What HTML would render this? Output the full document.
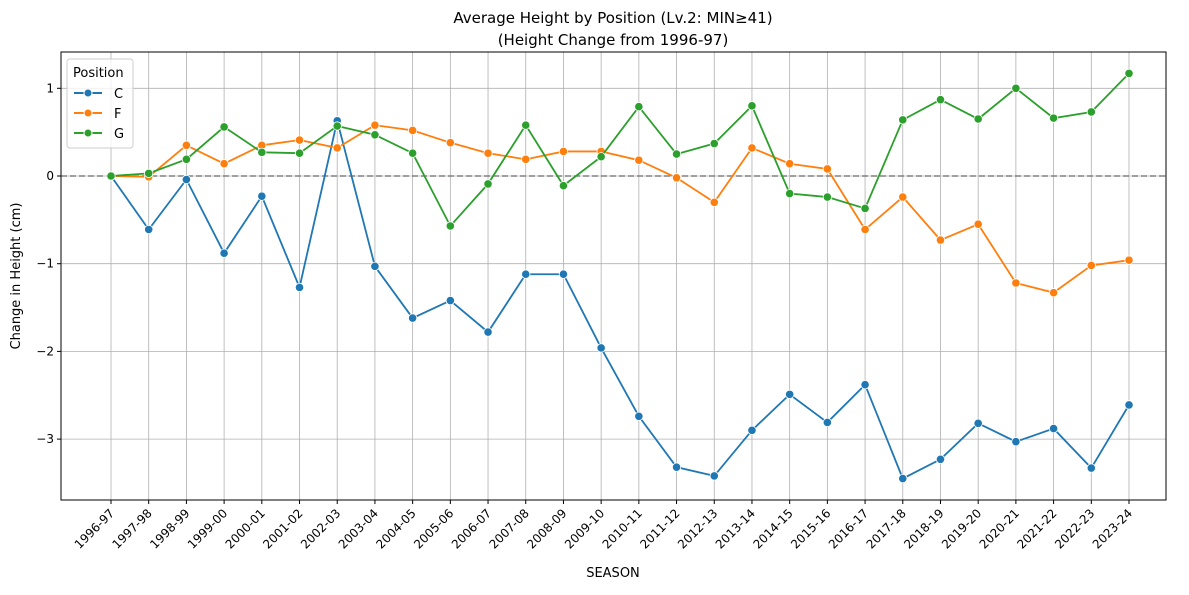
<!DOCTYPE html>
<html><head><meta charset="utf-8"><style>
body{margin:0;background:#fff;font-family:"Liberation Sans","DejaVu Sans",sans-serif;}
</style></head><body>
<svg id="chart" width="1189" height="590" xmlns="http://www.w3.org/2000/svg" font-family="DejaVu Sans, Liberation Sans, sans-serif">
<text x="613" y="23" font-size="15" text-anchor="middle">Average Height by Position (Lv.2: MIN≥41)</text>
<text x="613" y="45" font-size="15" text-anchor="middle">(Height Change from 1996-97)</text>
<g id="grid"></g><g id="axes"></g><g id="series"></g>
<text x="613" y="577" font-size="13" text-anchor="middle">SEASON</text>
<text transform="translate(20,276) rotate(-90)" font-size="13" text-anchor="middle">Change in Height (cm)</text>
<g>
<rect x="67" y="59" width="66" height="89" rx="3" fill="#fff" fill-opacity="0.8" stroke="#ccc"/>
<text x="73" y="77" font-size="13">Position</text>
<g><line x1="74" x2="102" y1="93" y2="93" stroke="#1f77b4" stroke-width="2"/><circle cx="88" cy="93" r="4" fill="#1f77b4" stroke="#fff"/><text x="114" y="98" font-size="13">C</text></g>
<g><line x1="74" x2="102" y1="113" y2="113" stroke="#ff7f0e" stroke-width="2"/><circle cx="88" cy="113" r="4" fill="#ff7f0e" stroke="#fff"/><text x="114" y="118" font-size="13">F</text></g>
<g><line x1="74" x2="102" y1="133" y2="133" stroke="#2ca02c" stroke-width="2"/><circle cx="88" cy="133" r="4" fill="#2ca02c" stroke="#fff"/><text x="114" y="138" font-size="13">G</text></g>
</g>
</svg>
<script>
const seasons=["1996-97","1997-98","1998-99","1999-00","2000-01","2001-02","2002-03","2003-04","2004-05","2005-06","2006-07","2007-08","2008-09","2009-10","2010-11","2011-12","2012-13","2013-14","2014-15","2015-16","2016-17","2017-18","2018-19","2019-20","2020-21","2021-22","2022-23","2023-24"];
const cValues=[0,-0.61,-0.04,-0.88,-0.23,-1.27,0.63,-1.03,-1.62,-1.42,-1.78,-1.12,-1.12,-1.96,-2.74,-3.32,-3.42,-2.90,-2.49,-2.81,-2.38,-3.45,-3.23,-2.82,-3.03,-2.88,-3.33,-2.61];
const fValues=[0,-0.01,0.35,0.14,0.35,0.41,0.32,0.58,0.52,0.38,0.26,0.19,0.28,0.28,0.18,-0.02,-0.30,0.32,0.14,0.08,-0.61,-0.24,-0.73,-0.55,-1.22,-1.33,-1.02,-0.96];
const gValues=[0,0.03,0.19,0.56,0.27,0.26,0.57,0.47,0.26,-0.57,-0.09,0.58,-0.11,0.22,0.79,0.25,0.37,0.80,-0.20,-0.24,-0.37,0.64,0.87,0.65,1.00,0.66,0.73,1.17];
const yTicks=[-3,-2,-1,0,1];
const NS="http://www.w3.org/2000/svg";
const L=61,R=1166,T=52,B=500;
const x=i=>111+i*(1129-111)/(seasons.length-1);
const y=v=>176-v*87.7;
function mk(tag,attrs,parent){const e=document.createElementNS(NS,tag);for(const k in attrs)e.setAttribute(k,attrs[k]);parent.appendChild(e);return e;}
const grid=document.getElementById('grid'),axes=document.getElementById('axes'),ser=document.getElementById('series');
seasons.forEach((s,i)=>{
 const g=mk('line',{x1:x(i),x2:x(i),y1:T,y2:B,stroke:'#b0b0b0','stroke-width':0.8},grid);
 
 
 mk('line',{x1:x(i),x2:x(i),y1:B,y2:B+4,stroke:'#000'},axes);
 const t=mk('text',{x:x(i)+4,y:B+14,'font-size':12,'text-anchor':'end',transform:`rotate(-45 ${x(i)+4} ${B+14})`},axes);
 t.textContent=s;
 
 
});
yTicks.forEach(v=>{
 const g=mk('line',{x1:L,x2:R,y1:y(v),y2:y(v),stroke:'#b0b0b0','stroke-width':0.8},grid);
 
 
 mk('line',{x1:L-4,x2:L,y1:y(v),y2:y(v),stroke:'#000'},axes);
 const t=mk('text',{x:L-7,y:y(v)+4,'font-size':12,'text-anchor':'end'},axes);
 t.textContent=v<0?'−'+(-v):String(v);
 
 
});
const zl=mk('line',{x1:L,x2:R,y1:y(0),y2:y(0),stroke:'#808080','stroke-width':1.5,'stroke-dasharray':'6,3'},grid);


const fr=mk('rect',{x:L,y:T,width:R-L,height:B-T,fill:'none',stroke:'#000','stroke-width':1},axes);


[[cValues,'#1f77b4','c'],[fValues,'#ff7f0e','f'],[gValues,'#2ca02c','g']].forEach(([vals,col,n])=>{
 const p=mk('polyline',{points:vals.map((v,i)=>x(i)+','+y(v)).join(' '),fill:'none',stroke:col,'stroke-width':1.8},ser);
 
 
 vals.forEach((v,i)=>{
  const c=mk('circle',{cx:x(i),cy:y(v),r:4.2,fill:col,stroke:'#fff','stroke-width':0.8},ser);
  
  
 });
});
</script>
</body></html>
